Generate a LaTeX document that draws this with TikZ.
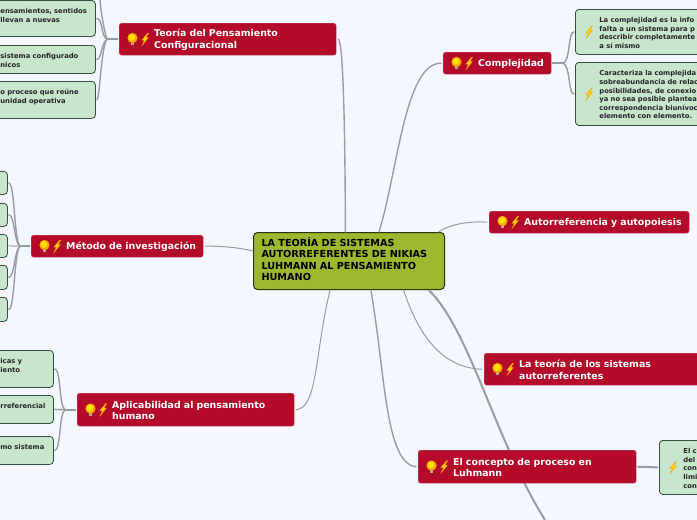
\documentclass[tikz,border=0pt]{standalone}
\usepackage{fontspec}
\setmainfont{DejaVu Sans}
\definecolor{paper}{HTML}{F4F7FF}
\definecolor{topicred}{HTML}{B30B29}
\definecolor{leafgreen}{HTML}{C7E6CC}
\definecolor{leafline}{HTML}{33503C}
\definecolor{rootgreen}{HTML}{9DB72E}
\definecolor{rootline}{HTML}{2B3310}
\definecolor{linkgray}{HTML}{9A9CA3}
\tikzset{
  rootbox/.style={draw=rootline,fill=rootgreen,line width=1pt,rounded corners=4pt,inner xsep=0pt,inner ysep=0pt,
    anchor=north west,text width=#1,text depth=38pt,align=left,text=black,
    font=\fontsize{9.7}{11.4}\selectfont\bfseries,execute at begin node={\leftskip=8pt}},
  redbox/.style={fill=topicred,draw=topicred!70!white,line width=0.4pt,rounded corners=2.5pt,inner xsep=0pt,inner ysep=0pt,
    anchor=north west,text width=#1,text height=9.1pt,align=left,text=white,
    font=\fontsize{9.4}{11.6}\selectfont\bfseries,execute at begin node={\leftskip=35pt}},
  leafbox/.style={draw=leafline,fill=leafgreen,line width=0.8pt,rounded corners=3.5pt,inner xsep=0pt,inner ysep=0pt,
    anchor=north west,text width=#1,text height=7.2pt,align=left,text=black!85,
    font=\fontsize{6.8}{8.6}\selectfont\bfseries,execute at begin node={\leftskip=24pt}},
  link/.style={draw=linkgray,line width=1.4pt,line cap=round},
  thinlink/.style={draw=linkgray,line width=1pt,line cap=round},
  boldlink/.style={draw=linkgray,line width=2pt},
  bulb/.pic={
    \fill[gray!70] (-1.8,3) rectangle (1.8,6);
    \fill[orange!70!yellow] (0,-1.2) circle (5.1);
    \fill[yellow!85!orange] (-0.6,-1.8) circle (3.4);
    \fill[orange!70!yellow] (-2,2) -- (2,2) -- (1.8,3.6) -- (-1.8,3.6) -- cycle;
  },
  bolt/.pic={
    \fill[yellow!70!orange,draw=orange!80!yellow,line width=0.3pt] (2.6,-6) -- (-3.2,1) -- (-0.6,1) -- (-3,6.4) -- (3.4,-1.6) -- (0.8,-1.6) -- (3.6,-6) -- cycle;
  }
}
\begin{document}
\begin{tikzpicture}[x=1pt,y=-1pt]
\path[use as bounding box,clip] (0,0) rectangle (697,520);
\fill[paper] (0,0) rectangle (697,520);
\node[rootbox=191pt,minimum height=57pt] (central) at (253,232) {LA TEORÍA DE SISTEMAS\\AUTORREFERENTES DE NIKIAS\\LUHMANN AL PENSAMIENTO\\HUMANO};
\coordinate (offpage) at (545,520);
\draw[boldlink] (central.340) .. controls (470,330) and (495,440) .. (offpage);

\node[redbox=217pt,minimum height=32pt] (pensamiento) at (119,23) {Teoría del Pensamiento\\Configuracional};
\node[redbox=172pt,minimum height=22pt] (metodo) at (31,235) {Método de investigación};
\node[redbox=217pt,minimum height=33pt] (aplicabilidad) at (77,393) {Aplicabilidad al pensamiento\\humano};
\node[redbox=108pt,minimum height=22pt] (complejidad) at (443,52) {Complejidad};
\node[redbox=200pt,minimum height=22pt] (autorref) at (489,211) {Autorreferencia y autopoiesis};
\node[redbox=240pt,minimum height=32pt] (sistemas) at (484,353) {La teoría de los sistemas\\autorreferentes};
\node[redbox=218pt,minimum height=33pt] (proceso) at (418,450) {El concepto de proceso en\\Luhmann};

\node[leafbox=119pt,minimum height=36pt] (pens a) at (-24,0) {ensamientos, sentidos\\llevan a nuevas\\~};
\node[leafbox=119pt,minimum height=28pt] (pens b) at (-24,45) {sistema configurado\\nicos};
\node[leafbox=119pt,minimum height=37pt] (pens c) at (-24,81) {o proceso que reúne\\unidad operativa\\~};

\node[leafbox=27pt,minimum height=23pt] (met a) at (-20,171) {};
\node[leafbox=27pt,minimum height=23pt] (met b) at (-20,203) {};
\node[leafbox=27pt,minimum height=23pt] (met c) at (-20,234) {};
\node[leafbox=27pt,minimum height=24pt] (met d) at (-20,265) {};
\node[leafbox=27pt,minimum height=24pt] (met e) at (-20,297) {};

\node[leafbox=77pt,minimum height=37pt] (apl a) at (-24,350) {icas y\\iento\\~};
\node[leafbox=77pt,minimum height=28pt] (apl b) at (-24,395) {rreferencial\\~};
\node[leafbox=77pt,minimum height=28pt] (apl c) at (-24,436) {mo sistema\\~};

\node[leafbox=160pt,minimum height=45pt] (com a) at (575,9) {La complejidad es la info\\falta a un sistema para p\\describir completamente\\a sí mismo};
\node[leafbox=160pt,minimum height=63pt] (com b) at (575,62) {Caracteriza la complejida\\sobreabundancia de relac\\posibilidades, de conexio\\ya no sea posible plantea\\correspondencia biunívoc\\elemento con elemento.};
\node[leafbox=100pt,minimum height=54pt] (pro a) at (659,440) {El c\\del\\con\\limi\\con};

\pic at ([xshift=13.5pt]pensamiento.west) {bulb};
\pic at ([xshift=26pt]pensamiento.west) {bolt};
\pic at ([xshift=13.5pt]metodo.west) {bulb};
\pic at ([xshift=26pt]metodo.west) {bolt};
\pic at ([xshift=13.5pt]aplicabilidad.west) {bulb};
\pic at ([xshift=26pt]aplicabilidad.west) {bolt};
\pic at ([xshift=13.5pt]complejidad.west) {bulb};
\pic at ([xshift=26pt]complejidad.west) {bolt};
\pic at ([xshift=13.5pt]autorref.west) {bulb};
\pic at ([xshift=26pt]autorref.west) {bolt};
\pic at ([xshift=13.5pt]sistemas.west) {bulb};
\pic at ([xshift=26pt]sistemas.west) {bolt};
\pic at ([xshift=13.5pt]proceso.west) {bulb};
\pic at ([xshift=26pt]proceso.west) {bolt};
\pic at ([xshift=14pt]com a.west) {bolt};
\pic at ([xshift=14pt]com b.west) {bolt};
\pic at ([xshift=14pt]pro a.west) {bolt};

\draw[link] (central.97) .. controls (345,120) and (343,42) .. ([xshift=2pt]pensamiento.east);
\draw[link] (central.44) .. controls (398,170) and (405,63) .. ([xshift=-2pt]complejidad.west);
\draw[thinlink] (central.18) .. controls (450,224) and (470,221) .. ([xshift=-2pt]autorref.west);
\draw[thinlink] (central.174) .. controls (235,247) and (220,246) .. ([xshift=2pt]metodo.east);
\draw[thinlink] (central.237) .. controls (315,350) and (318,408) .. ([xshift=2pt]aplicabilidad.east);
\draw[thinlink] (central.332) .. controls (420,340) and (445,368) .. ([xshift=-2pt]sistemas.west);
\draw[link] (central.307) .. controls (385,370) and (385,464) .. ([xshift=-2pt]proceso.west);

\coordinate (hub pens) at ([xshift=-12pt]pensamiento.west);
\coordinate (up pens) at (100,0);
\draw[boldlink] ([xshift=-1pt]pensamiento.west) -- (hub pens);
\draw[link] (hub pens) .. controls +(-3,-8) and +(1,12) .. (up pens);
\draw[link] (hub pens) .. controls +(-6,-2) and +(6,0) .. ([xshift=1pt]pens a.east);
\draw[link] (hub pens) .. controls +(-6,4) and +(5,0) .. ([xshift=1pt]pens b.east);
\draw[link] (hub pens) .. controls +(-6,8) and +(3,0) .. ([xshift=1pt]pens c.east);

\coordinate (hub met) at ([xshift=-11pt]metodo.west);
\draw[boldlink] ([xshift=-1pt]metodo.west) -- (hub met);
\draw[link] (hub met) .. controls +(-6,-6) and +(6,0) .. ([xshift=1pt]met a.east);
\draw[link] (hub met) .. controls +(-6,-4) and +(6,0) .. ([xshift=1pt]met b.east);
\draw[thinlink] (hub met) -- ([xshift=1pt]met c.east);
\draw[link] (hub met) .. controls +(-6,4) and +(6,0) .. ([xshift=1pt]met d.east);
\draw[link] (hub met) .. controls +(-6,6) and +(6,0) .. ([xshift=1pt]met e.east);

\coordinate (hub apl) at ([xshift=-12pt]aplicabilidad.west);
\draw[boldlink] ([xshift=-1pt]aplicabilidad.west) -- (hub apl);
\draw[link] (hub apl) .. controls +(-6,-4) and +(6,0) .. ([xshift=1pt]apl a.east);
\draw[link] (hub apl) -- ([xshift=1pt]apl b.east);
\draw[link] (hub apl) .. controls +(-6,4) and +(6,0) .. ([xshift=1pt]apl c.east);

\coordinate (hub com) at ([xshift=12pt]complejidad.east);
\draw[boldlink] ([xshift=1pt]complejidad.east) -- (hub com);
\draw[link] (hub com) .. controls +(7,-3) and +(-6,0) .. ([xshift=-1pt]com a.west);
\draw[link] (hub com) .. controls +(7,3) and +(-6,0) .. ([xshift=-1pt]com b.west);

\draw[boldlink] ([xshift=1pt]proceso.east) -- ([xshift=-1pt]pro a.west);
\end{tikzpicture}
\end{document}
